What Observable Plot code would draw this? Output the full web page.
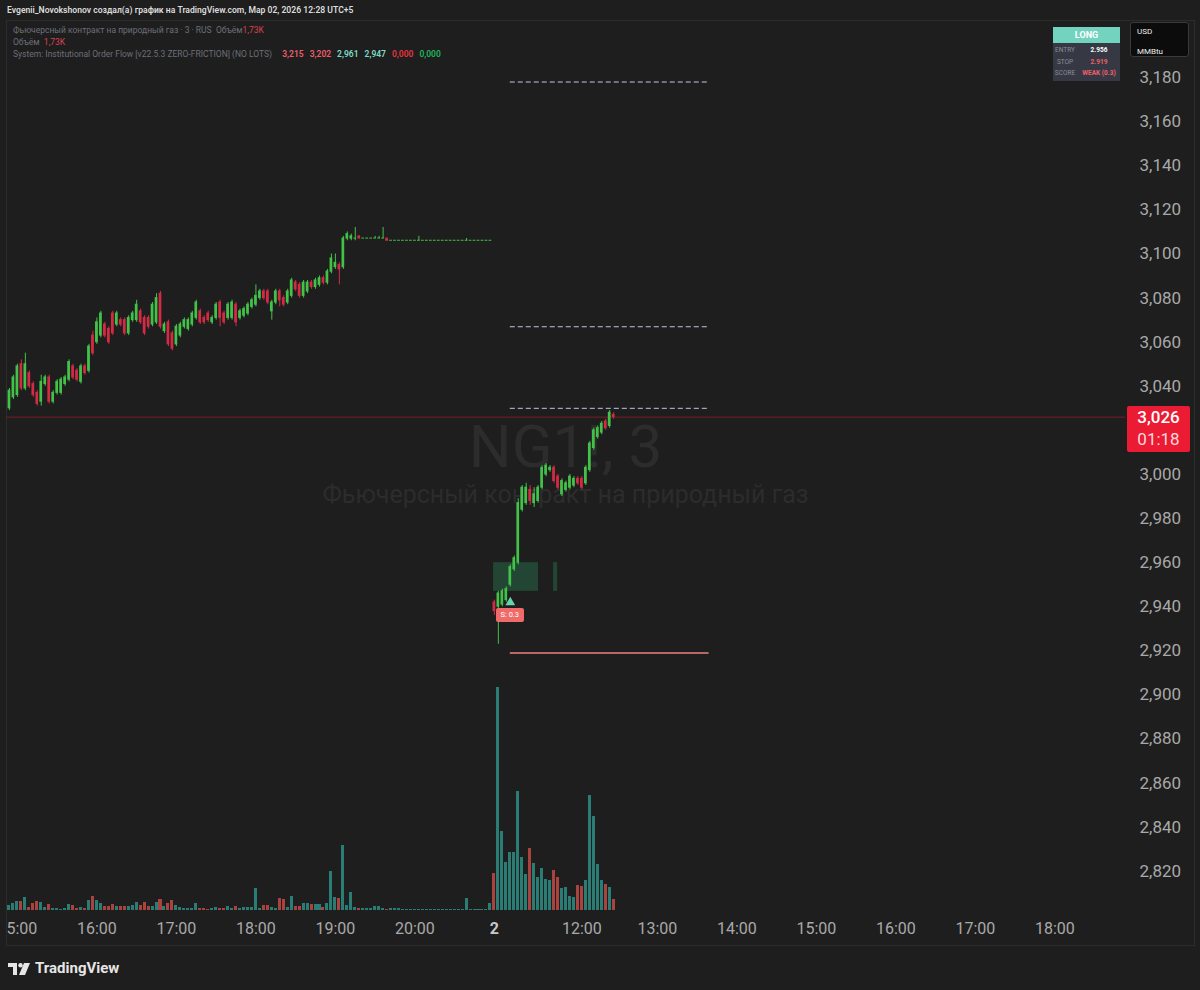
<!DOCTYPE html>
<html lang="ru"><head><meta charset="utf-8">
<script src="https://cdn.jsdelivr.net/npm/d3@7"></script>
<script src="https://cdn.jsdelivr.net/npm/@observablehq/plot@0.6"></script>
<style>
html,body{margin:0;padding:0;background:#1e1e1e;overflow:hidden;}
#root{position:relative;width:1200px;height:990px;overflow:hidden;background:#1e1e1e;font-family:Roboto,"Liberation Sans",sans-serif;}
.a{position:absolute;white-space:nowrap;}
</style></head>
<body><div id="root"></div>
<script>
// ---------- DATA ----------
const firstIndex = -2; // bar index of first candle (15:00 = bar 0)
const open = [
3.030,3.035,3.036,3.050,3.039,3.046,3.041,3.037,3.033,3.041,
3.044,3.033,3.037,3.037,3.041,3.043,3.049,3.047,3.042,3.049,
3.047,3.063,3.060,3.063,3.068,3.066,3.073,3.068,3.070,3.070,
3.064,3.070,3.070,3.074,3.071,3.071,3.068,3.069,3.082,3.065,
3.069,3.064,3.059,3.063,3.067,3.066,3.068,3.071,3.074,3.071,
3.073,3.069,3.071,3.078,3.073,3.071,3.071,3.077,3.071,3.072,
3.073,3.076,3.077,3.080,3.083,3.083,3.074,3.078,3.083,3.080,
3.078,3.081,3.087,3.086,3.081,3.083,3.087,3.085,3.086,3.089,
3.087,3.092,3.094,3.095,3.094,3.107,3.107,3.107,3.108,3.107,
3.107,3.107,3.107,3.107,3.107,3.107,3.106,3.106,3.106,3.106,
3.106,3.106,3.106,3.106,3.106,3.106,3.106,3.106,3.106,3.106,
3.106,3.106,3.106,3.106,3.106,3.106,3.106,3.106,3.106,3.106,
3.106,3.106,2.942,2.940,2.941,2.943,2.950,2.957,2.960,2.984,
2.987,2.993,2.987,2.988,2.994,3.000,3.002,3.003,2.999,2.991,
2.993,2.994,2.995,2.998,2.998,2.996,3.002,3.012,3.017,3.019,
3.024,3.022,3.027];
const high = [
3.039,3.045,3.050,3.052,3.055,3.047,3.042,3.038,3.045,3.045,
3.045,3.038,3.043,3.044,3.045,3.052,3.050,3.048,3.050,3.050,
3.059,3.065,3.071,3.074,3.069,3.067,3.074,3.074,3.071,3.071,
3.072,3.074,3.079,3.075,3.072,3.072,3.078,3.082,3.083,3.069,
3.070,3.065,3.068,3.069,3.071,3.071,3.074,3.079,3.075,3.072,
3.074,3.072,3.078,3.079,3.074,3.078,3.079,3.078,3.075,3.076,
3.078,3.080,3.086,3.084,3.084,3.084,3.079,3.084,3.084,3.081,
3.084,3.089,3.088,3.087,3.088,3.088,3.088,3.089,3.090,3.090,
3.093,3.100,3.100,3.096,3.108,3.110,3.109,3.112,3.108,3.107,
3.107,3.107,3.108,3.108,3.112,3.107,3.106,3.106,3.106,3.106,
3.106,3.106,3.106,3.108,3.106,3.106,3.106,3.106,3.106,3.106,
3.106,3.106,3.106,3.106,3.106,3.107,3.106,3.106,3.106,3.106,
3.106,3.106,2.943,2.947,2.948,2.949,2.959,2.963,2.989,2.995,
2.996,2.995,2.994,2.995,3.004,3.005,3.004,3.004,3.000,2.998,
2.997,3.000,2.999,2.999,2.999,3.004,3.015,3.021,3.022,3.024,
3.025,3.029,3.028];
const low = [
3.029,3.034,3.035,3.038,3.038,3.039,3.035,3.031,3.031,3.040,
3.032,3.032,3.036,3.036,3.040,3.042,3.043,3.042,3.041,3.045,
3.046,3.054,3.059,3.062,3.062,3.059,3.063,3.067,3.067,3.063,
3.063,3.069,3.069,3.068,3.063,3.066,3.067,3.068,3.066,3.064,
3.058,3.056,3.058,3.062,3.066,3.065,3.067,3.070,3.068,3.068,
3.069,3.068,3.070,3.067,3.068,3.070,3.070,3.067,3.070,3.071,
3.072,3.075,3.076,3.079,3.079,3.077,3.070,3.077,3.076,3.076,
3.077,3.080,3.083,3.080,3.080,3.082,3.084,3.084,3.085,3.086,
3.086,3.091,3.093,3.086,3.093,3.106,3.106,3.106,3.107,3.107,
3.107,3.107,3.107,3.107,3.107,3.106,3.106,3.106,3.106,3.106,
3.106,3.106,3.106,3.106,3.106,3.106,3.106,3.106,3.106,3.106,
3.106,3.106,3.106,3.106,3.106,3.106,3.106,3.106,3.106,3.106,
3.106,3.106,2.936,2.923,2.940,2.942,2.949,2.956,2.959,2.983,
2.986,2.986,2.985,2.987,2.993,2.999,3.001,2.996,2.993,2.990,
2.992,2.993,2.994,2.995,2.993,2.995,3.001,3.011,3.016,3.018,
3.020,3.021,3.025];
const close = [
3.038,3.044,3.049,3.039,3.050,3.040,3.036,3.032,3.042,3.044,
3.033,3.037,3.042,3.043,3.044,3.051,3.044,3.043,3.049,3.046,
3.058,3.055,3.069,3.073,3.063,3.060,3.064,3.073,3.068,3.064,
3.071,3.073,3.077,3.069,3.064,3.067,3.077,3.080,3.067,3.068,
3.059,3.057,3.067,3.068,3.070,3.070,3.073,3.078,3.069,3.069,
3.070,3.071,3.077,3.071,3.069,3.077,3.078,3.069,3.074,3.075,
3.077,3.079,3.081,3.083,3.080,3.078,3.078,3.083,3.079,3.077,
3.083,3.088,3.084,3.081,3.087,3.087,3.085,3.088,3.089,3.087,
3.092,3.098,3.096,3.093,3.107,3.109,3.108,3.107,3.107,3.107,
3.107,3.107,3.107,3.107,3.107,3.106,3.106,3.106,3.106,3.106,
3.106,3.106,3.106,3.106,3.106,3.106,3.106,3.106,3.106,3.106,
3.106,3.106,3.106,3.106,3.106,3.106,3.106,3.106,3.106,3.106,
3.106,3.106,2.938,2.946,2.947,2.948,2.958,2.962,2.987,2.994,
2.994,2.988,2.991,2.994,3.003,3.004,3.003,2.997,2.994,2.997,
2.996,2.999,2.998,2.996,2.994,3.003,3.014,3.020,3.021,3.023,
3.021,3.028,3.026];
const volume = [
790,1150,1460,1460,1990,520,1050,1460,1300,520,
940,270,360,160,270,940,790,270,520,270,
1570,2250,1570,1150,630,630,890,630,630,630,
630,790,1300,790,1300,630,680,1300,1680,630,
1150,1570,790,420,360,270,270,1050,360,270,
160,270,520,270,270,630,270,680,270,520,
520,420,3500,270,790,790,520,360,1930,1680,
520,2250,630,630,1150,1150,890,890,890,520,
1050,6120,1990,1840,10210,790,2870,520,270,270,
270,310,680,680,310,160,270,270,270,160,
160,160,160,160,160,160,160,160,160,160,
160,160,160,160,160,1840,160,160,160,160,
160,1050,5760,34960,12450,7580,9150,9150,18680,8370,
5650,9690,7330,5130,6640,4820,4710,6280,5130,3410,
3560,2200,1990,3930,3820,4710,18060,14760,7220,4710,
4030,3560,1730];

// 3,020 is hidden under the last-price label in the reference
const priceTicks = [2.820,2.840,2.860,2.880,2.900,2.920,2.940,2.960,2.980,3.000,3.040,3.060,3.080,3.100,3.120,3.140,3.160,3.180];
const timeTickIndex = [0,20,40,60,80,100,120,142,161,181,201,221,241,261];
const timeTickLabels = ["15:00","16:00","17:00","18:00","19:00","20:00","2","12:00","13:00","14:00","15:00","16:00","17:00","18:00"];

const entryPrice = 2.956;
const stopPrice = 2.919;
const targetPrices = [3.030, 3.067, 3.178];
const levelStart = 124, levelEnd = 174;
const zoneStart = [119.8, 134.9];
const zoneEnd = [131.1, 135.9];
const zoneLow = 2.947, zoneHigh = 2.960;
const signalIndex = 124, signalPrice = 2.942, signalText = "S: 0.3";
const countdown = "01:18";
const legendValues = ["3,215","3,202","2,961","2,947","0,000","0,000"];

// ---------- BUILD ----------
const bars = open.map((o, k) => ({i: firstIndex + k, o, h: high[k], l: low[k], c: close[k], v: volume[k]}));
const lastPrice = close[close.length - 1];
const fmtPrice = d => d3.format(".3f")(d).replace(".", ",");
const UP = "#43c24a", DOWN = "#d42a45", VUP = "#2a7d75", VDOWN = "#a8433f";
const AXIS = "#a9a9a9";
const xDomain = [-2.742, 278.77];
const W = 1200, H = 990;
const HALF = 0.34;
const baseStyle = {background: "transparent", color: AXIS, fontFamily: "Roboto, sans-serif", maxWidth: "none", overflow: "visible"};

const root = document.getElementById("root");
function div(html, css) { const d = document.createElement("div"); d.className = "a"; d.style.cssText = css; d.innerHTML = html; root.appendChild(d); return d; }

// pane border
div("", "left:6px;top:20px;width:1189px;height:926px;border:1px solid #2c2c2c;box-sizing:border-box;");

// watermark
div("NG1!, 3", "left:6px;top:415px;width:1119px;text-align:center;font-size:60px;line-height:64px;color:#2c2c2c;");
div("Фьючерсный контракт на природный газ", "left:6px;top:481px;width:1119px;text-align:center;font-size:25px;line-height:28px;color:#2c2c2c;");

// volume + time axis
const tickRows = timeTickIndex.map((t, k) => ({t, label: timeTickLabels[k]}));
const volPlot = Plot.plot({
  width: W, height: H, marginLeft: 6, marginRight: 75, marginTop: 600, marginBottom: 80,
  x: {domain: xDomain, axis: null},
  y: {domain: [0, 48700], axis: null},
  color: {type: "identity"},
  style: baseStyle,
  marks: [
    Plot.rectY(bars, {x1: d => d.i - 0.38, x2: d => d.i + 0.38, y: "v", fill: d => d.c >= d.o ? VUP : VDOWN, shapeRendering: "crispEdges"}),
    Plot.text(tickRows.filter(d => d.label !== "2"),
      {x: "t", text: "label", frameAnchor: "bottom", dy: 18, lineAnchor: "middle", fontSize: 16, fill: AXIS}),
    Plot.text(tickRows.filter(d => d.label === "2"),
      {x: "t", text: "label", frameAnchor: "bottom", dy: 18, lineAnchor: "middle", fontSize: 16, fontWeight: "bold", fill: "#c8c8c8"})
  ]
});
const volWrap = document.createElement("div");
volWrap.className = "a";
volWrap.style.cssText = "left:6px;top:0;width:1194px;height:990px;overflow:hidden;";
volPlot.style.marginLeft = "-6px";
volWrap.appendChild(volPlot);
root.appendChild(volWrap);

// price pane
const pricePlot = Plot.plot({
  width: W, height: H, marginLeft: 6, marginRight: 75, marginTop: 20, marginBottom: 85,
  x: {domain: xDomain, axis: null},
  y: {domain: [2.8045, 3.2059], axis: null},
  color: {type: "identity"},
  style: baseStyle,
  marks: [
    Plot.axisY({ticks: priceTicks, anchor: "right", tickSize: 0, tickPadding: 14, fontSize: 17, tickFormat: fmtPrice, fill: AXIS}),
    Plot.ruleY([lastPrice], {stroke: "#7a1e29", strokeWidth: 1}),
    Plot.rect(zoneStart.map((s, k) => ({s, e: zoneEnd[k]})), {x1: "s", x2: "e", y1: () => zoneLow, y2: () => zoneHigh, fill: "#2f9a63", fillOpacity: 0.32}),
    Plot.ruleY(targetPrices, {x1: () => levelStart, x2: () => levelEnd, stroke: "#c3c5e8", strokeWidth: 1, strokeDasharray: "5,3"}),
    Plot.ruleY([stopPrice], {x1: () => levelStart, x2: () => levelEnd, stroke: "#f08080", strokeWidth: 1.6}),
    Plot.ruleX(bars, {x: "i", y1: "l", y2: "h", stroke: d => d.c >= d.o ? UP : DOWN, strokeWidth: 1}),
    Plot.rect(bars, {x1: d => d.i - HALF, x2: d => d.i + HALF, y1: d => Math.min(d.o, d.c), y2: d => Math.max(d.o, d.c),
      fill: d => d.c >= d.o ? UP : DOWN, insetTop: -0.5, insetBottom: -0.5}),
    Plot.dot([{i: signalIndex, p: signalPrice}], {x: "i", y: "p", symbol: "triangle", r: 3.6, fill: "#63d6b0", stroke: "none"})
  ]
});
pricePlot.style.position = "absolute";
pricePlot.style.left = "0px";
pricePlot.style.top = "0px";
root.appendChild(pricePlot);

const xs = pricePlot.scale("x"), ys = pricePlot.scale("y");

// signal label
const sx = xs.apply(signalIndex), sy = ys.apply(signalPrice);
div(signalText, `left:${sx - 14}px;top:${sy + 6}px;width:28px;height:14px;line-height:14px;text-align:center;background:#f16a6a;border-radius:2px;color:#fff;font-size:7.5px;`);

// last price label
const py = ys.apply(lastPrice);
div(`<div style="font-size:17px;font-weight:500;line-height:22px;color:#fff">${fmtPrice(lastPrice)}</div><div style="font-size:17px;line-height:22px;color:#ffd9de">${countdown}</div>`,
  `left:1127px;top:${py - 11}px;width:63px;height:46px;background:#eb1b33;border-radius:2px;text-align:center;`);

// header
div("Evgenii_Novokshonov создал(а) график на TradingView.com, Мар 02, 2026 12:28 UTC+5",
  "left:7px;top:4px;font-size:8.6px;font-weight:600;line-height:13px;color:#dcdcdc;");

// legend
const LG = "#6c6f78";
div(`Фьючерсный контракт на природный газ · 3 · RUS&nbsp; Объём<span style="color:#d9434f">1,73K</span>`,
  `left:13px;top:24px;font-size:8.5px;line-height:12px;color:${LG};`);
div(`Объём&nbsp; <span style="color:#d9434f">1,73K</span>`,
  `left:13px;top:36px;font-size:8.5px;line-height:12px;color:${LG};`);
const lvCols = ["#ef5d6a","#ef5d6a","#7fdcc4","#7fdcc4","#e8343f","#22b45e"];
div(`System: Institutional Order Flow [v22.5.3 ZERO-FRICTION] (NO LOTS)&nbsp; ` +
  legendValues.map((v, k) => `<span style="color:${lvCols[k]};font-weight:600;margin-left:6px">${v}</span>`).join(""),
  `left:13px;top:48px;font-size:8.5px;line-height:12px;color:${LG};`);

// LONG table
div("LONG", "left:1053px;top:27px;width:67px;height:16px;line-height:16px;background:#72d3bf;color:#fff;font-size:9px;font-weight:bold;text-align:center;");
div("", "left:1053px;top:43px;width:67px;height:38px;background:#363944;");
const rows = [["ENTRY", entryPrice.toFixed(3), "#ffffff"], ["STOP", stopPrice.toFixed(3), "#f0606a"], ["SCORE", "WEAK (0.3)", "#f0606a"]];
rows.forEach((r, k) => {
  const top = 45 + k * 11.5;
  div(r[0], `left:1053px;top:${top}px;width:24px;text-align:center;font-size:6.5px;line-height:11px;color:#8a8d97;`);
  div(r[1], `left:1078px;top:${top}px;width:42px;text-align:center;font-size:6.5px;font-weight:bold;line-height:11px;color:${r[2]};`);
});

// unit box
div(`<div style="position:absolute;left:6px;top:3px;">USD</div><div style="position:absolute;left:6px;top:23px;">MMBtu</div>`,
  "left:1130px;top:22px;width:59px;height:35px;background:#0c0c0c;border:1px solid #3a3a3a;border-radius:3px;box-sizing:border-box;color:#f0f0f0;font-size:8px;line-height:11px;");

// TradingView logo
div(`<svg width="22" height="13" viewBox="0 0 22 13"><path d="M0 0H9V12H5V4H0Z" fill="#e6e6e6"/><circle cx="12.5" cy="2.2" r="2.2" fill="#e6e6e6"/><path d="M16 0H22L17 12H11Z" fill="#e6e6e6"/></svg>`,
  "left:8px;top:961px;");
div("TradingView", "left:35px;top:959px;font-size:15px;font-weight:bold;line-height:18px;color:#e6e6e6;");
</script></body></html>
